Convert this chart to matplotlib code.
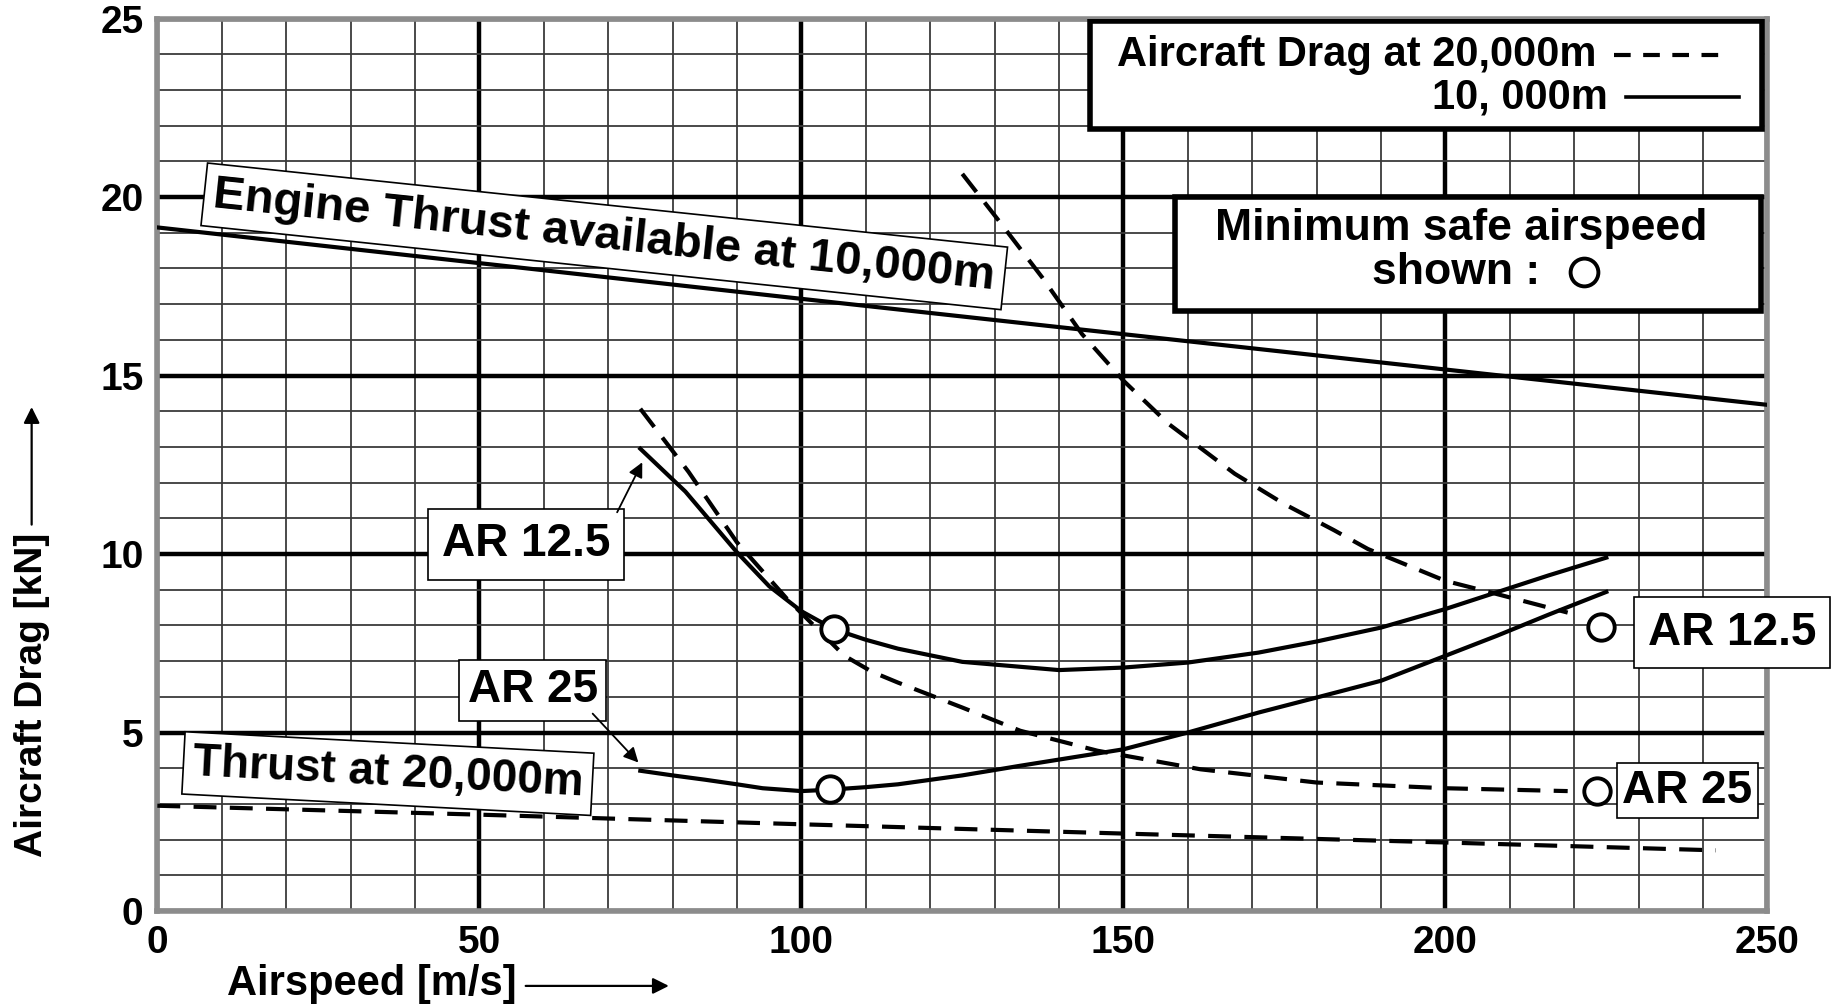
import matplotlib
matplotlib.use("Agg")
import matplotlib.pyplot as plt
from matplotlib.patches import Rectangle
from matplotlib.ticker import MultipleLocator

plt.rcParams["font.family"] = ["Liberation Sans", "DejaVu Sans"]
plt.rcParams["font.weight"] = "bold"

# engine thrust available (straight lines)
thrust_10k_speed = [0, 50, 100, 150, 200, 250]
thrust_10k = [19.15, 18.15, 17.15, 16.16, 15.17, 14.18]
thrust_20k_speed = [0, 50, 100, 150, 200, 242]
thrust_20k = [2.95, 2.7, 2.43, 2.17, 1.92, 1.7]

# aircraft drag at 10,000 m (solid)
ar125_10k_speed = [75, 82, 90, 95, 100, 105, 110, 115, 125, 140, 150, 160, 171, 180, 190, 200, 208, 216, 225]
ar125_10k = [12.95, 11.75, 10.05, 9.1, 8.4, 7.9, 7.6, 7.35, 6.98, 6.75, 6.82, 6.96, 7.24, 7.55, 7.94, 8.46, 8.93, 9.4, 9.9]
ar25_10k_speed = [75, 80, 85, 90, 94, 100, 104.5, 110, 115, 125, 134, 150, 160, 171, 180, 190, 200, 208, 216, 225]
ar25_10k = [3.93, 3.8, 3.68, 3.55, 3.44, 3.36, 3.4, 3.47, 3.55, 3.8, 4.07, 4.53, 5.0, 5.56, 5.98, 6.45, 7.15, 7.71, 8.3, 8.94]

# aircraft drag at 20,000 m (dashed)
ar125_20k_speed = [125, 130.7, 137.4, 143.6, 150, 157, 167.3, 175, 182.7, 188, 200, 208, 219]
ar125_20k = [20.65, 19.33, 17.75, 16.16, 14.86, 13.65, 12.25, 11.4, 10.67, 10.14, 9.25, 8.88, 8.36]
ar25_20k_speed = [75, 82.5, 90, 97.8, 106.7, 111, 115, 125, 134, 146, 162, 180, 200, 219]
ar25_20k = [14.07, 12.3, 10.33, 8.74, 7.15, 6.7, 6.4, 5.7, 5.05, 4.49, 3.97, 3.6, 3.44, 3.36]

# minimum safe airspeed markers
min_safe_speed = [105, 104.5, 224.2, 223.6]
min_safe_drag = [7.9, 3.42, 7.96, 3.36]

lw = 3.0
dash = (0, (5.5, 3.2))

fig = plt.figure(figsize=(18.4, 10.05), dpi=100)
ax = fig.add_axes([0.0855, 0.0935, 0.875, 0.888])
ax.set_xlim(0, 250)
ax.set_ylim(0, 25)
ax.xaxis.set_major_locator(MultipleLocator(50))
ax.xaxis.set_minor_locator(MultipleLocator(10))
ax.yaxis.set_major_locator(MultipleLocator(5))
ax.yaxis.set_minor_locator(MultipleLocator(1))
ax.set_axisbelow(True)
ax.grid(which="major", color="black", lw=3.2)
ax.grid(which="minor", color="#3a3a3a", lw=1.3)
ax.tick_params(which="both", length=0, labelsize=28, pad=10)
for s in ax.spines.values():
    s.set_color("#8c8c8c")
    s.set_linewidth(4)

ax.plot(thrust_10k_speed, thrust_10k, color="black", lw=lw, zorder=3)
ax.plot(thrust_20k_speed, thrust_20k, color="black", lw=lw, ls=dash, zorder=3)
ax.plot(ar125_10k_speed, ar125_10k, color="black", lw=lw, zorder=3)
ax.plot(ar25_10k_speed, ar25_10k, color="black", lw=lw, zorder=3)
ax.plot(ar125_20k_speed, ar125_20k, color="black", lw=lw, ls=dash, zorder=3)
ax.plot(ar25_20k_speed, ar25_20k, color="black", lw=lw, ls=dash, zorder=3)
ax.plot(min_safe_speed, min_safe_drag, ls="none", marker="o", ms=19,
        mfc="white", mec="black", mew=2.8, zorder=4)

box = dict(boxstyle="square,pad=0.2", fc="white", ec="black", lw=1.2)
ax.text(69.4, 18.9, "Engine Thrust available at 10,000m", fontsize=34,
        rotation=-6, rotation_mode="anchor", ha="center", va="center",
        bbox=box, zorder=6)
ax.text(35.8, 3.85, "Thrust at 20,000m", fontsize=33, rotation=-3,
        rotation_mode="anchor", ha="center", va="center", bbox=box, zorder=6)
ax.text(57.2, 10.27, "AR 12.5", fontsize=33, ha="center", va="center",
        bbox=dict(boxstyle="square,pad=0.3", fc="white", ec="black", lw=1.2), zorder=6)
ax.text(58.3, 6.18, "AR 25", fontsize=33, ha="center", va="center",
        bbox=dict(boxstyle="square,pad=0.18", fc="white", ec="black", lw=1.2), zorder=6)
ax.text(244.5, 7.8, "AR 12.5", fontsize=33, ha="center", va="center",
        bbox=dict(boxstyle="square,pad=0.3", fc="white", ec="black", lw=1.2), zorder=6)
ax.text(237.6, 3.37, "AR 25", fontsize=33, ha="center", va="center",
        bbox=dict(boxstyle="square,pad=0.12", fc="white", ec="black", lw=1.2), zorder=6)

arrow = dict(arrowstyle="-|>", color="black", lw=1.3, mutation_scale=22, shrinkA=0, shrinkB=0)
ax.annotate("", xy=(75.3, 12.57), xytext=(71.4, 11.17), arrowprops=arrow, zorder=6)
ax.annotate("", xy=(74.7, 4.16), xytext=(67.6, 5.53), arrowprops=arrow, zorder=6)

# legend box
ax.add_patch(Rectangle((0.579, 0.876), 0.418, 0.121, transform=ax.transAxes,
                       fc="white", ec="black", lw=4, zorder=5))
ax.text(0.8936, 0.959, "Aircraft Drag at 20,000m", transform=ax.transAxes,
        fontsize=30, ha="right", va="center", zorder=6)
ax.text(0.9009, 0.912, "10, 000m", transform=ax.transAxes,
        fontsize=30, ha="right", va="center", zorder=6)
ax.plot([0.9045, 0.970], [0.959, 0.959], transform=ax.transAxes,
        color="black", lw=3, ls=(0, (4, 3)), zorder=6)
ax.plot([0.912, 0.9825], [0.912, 0.912], transform=ax.transAxes,
        color="black", lw=2.6, zorder=6)

# minimum safe airspeed box
ax.add_patch(Rectangle((0.632, 0.672), 0.364, 0.128, transform=ax.transAxes,
                       fc="white", ec="black", lw=4, zorder=5))
ax.text(0.8098, 0.7645, "Minimum safe airspeed", transform=ax.transAxes,
        fontsize=32, ha="center", va="center", zorder=6)
ax.text(0.8065, 0.716, "shown :", transform=ax.transAxes,
        fontsize=32, ha="center", va="center", zorder=6)
ax.plot([0.886], [0.716], transform=ax.transAxes, marker="o", ms=20,
        mfc="white", mec="black", mew=2.8, zorder=6)

# axis labels with arrows
fig.text(0.0172, 0.3084, "Aircraft Drag [kN]", rotation=90, fontsize=28,
         ha="center", va="center")
ax.annotate("", xy=(0.0172, 0.595), xytext=(0.0172, 0.478),
            xycoords="figure fraction", textcoords="figure fraction",
            arrowprops=dict(arrowstyle="-|>", color="black", lw=1.6,
                            mutation_scale=24, shrinkA=0, shrinkB=0))
fig.text(0.202, 0.021, "Airspeed [m/s]", fontsize=30, ha="center", va="center")
ax.annotate("", xy=(0.3635, 0.019), xytext=(0.2857, 0.019),
            xycoords="figure fraction", textcoords="figure fraction",
            arrowprops=dict(arrowstyle="-|>", color="black", lw=1.6,
                            mutation_scale=24, shrinkA=0, shrinkB=0))

fig.savefig("out.png", dpi=100)
